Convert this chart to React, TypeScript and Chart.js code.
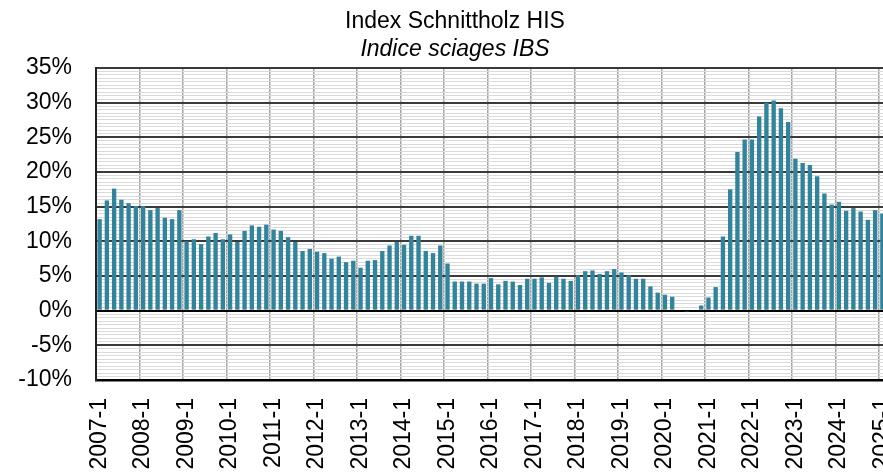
import React, { useEffect, useRef } from 'react';
import { Chart, registerables } from 'chart.js';

Chart.register(...registerables);

const TITLE = 'Index Schnittholz HIS';
const SUBTITLE = 'Indice sciages IBS';

// bi-monthly observations (months 1,3,5,7,9,11), year-over-year change in %
const MONTHS = [1, 3, 5, 7, 9, 11];
const V2007 = [13.2, 15.9, 17.6, 16.0, 15.5, 15.1];
const V2008 = [15.1, 14.5, 14.8, 13.4, 13.2, 14.5];
const V2009 = [10.0, 10.3, 9.6, 10.7, 11.2, 10.3];
const V2010 = [11.0, 9.9, 11.5, 12.3, 12.1, 12.4];
const V2011 = [11.7, 11.5, 10.6, 9.9, 8.6, 8.9];
const V2012 = [8.5, 8.3, 7.5, 7.8, 7.0, 7.2];
const V2013 = [6.2, 7.2, 7.3, 8.6, 9.4, 9.9];
const V2014 = [9.5, 10.8, 10.8, 8.6, 8.3, 9.4];
const V2015 = [6.8, 4.2, 4.2, 4.2, 3.9, 3.9];
const V2016 = [4.7, 3.8, 4.3, 4.2, 3.7, 4.6];
const V2017 = [4.6, 4.8, 4.0, 4.9, 4.6, 4.3];
const V2018 = [5.1, 5.7, 5.8, 5.3, 5.7, 6.0];
const V2019 = [5.5, 5.1, 4.6, 4.6, 3.5, 2.6];
const V2020 = [2.3, 2.0, 0.0, -0.2, 0.0, 0.75];
const V2021 = [1.9, 3.4, 10.7, 17.5, 22.9, 24.7];
const V2022 = [24.7, 28.0, 30.0, 30.3, 29.2, 27.2];
const V2023 = [21.9, 21.3, 21.0, 19.4, 16.9, 15.3];
const V2024 = [15.7, 14.4, 14.8, 14.3, 13.1, 14.5];
const V2025 = [14.0];

const YEARS: [number, number[]][] = [
  [2007, V2007], [2008, V2008], [2009, V2009], [2010, V2010], [2011, V2011],
  [2012, V2012], [2013, V2013], [2014, V2014], [2015, V2015], [2016, V2016],
  [2017, V2017], [2018, V2018], [2019, V2019], [2020, V2020], [2021, V2021],
  [2022, V2022], [2023, V2023], [2024, V2024], [2025, V2025],
];

const CATEGORIES: string[] = [];
const VALUES: number[] = [];
for (const [y, vals] of YEARS) {
  vals.forEach((v, i) => {
    CATEGORIES.push(`${y}-${MONTHS[i]}`);
    VALUES.push(v);
  });
}

const Y_MIN = -10;
const Y_MAX = 35;
const Y_MAJOR = 5;
const Y_MINOR = 0.5;

const FONT = '"Liberation Sans", Arial, sans-serif';

const isMajor = (v: number) => Math.abs(v % Y_MAJOR) < 1e-9;

const titlePlugin = {
  id: 'twoTitles',
  afterDraw(chart: any) {
    const ctx = chart.ctx;
    ctx.save();
    ctx.fillStyle = '#000';
    ctx.textAlign = 'center';
    ctx.textBaseline = 'middle';
    ctx.font = `23px ${FONT}`;
    ctx.fillText(TITLE, 455, 22);
    ctx.font = `italic 23px ${FONT}`;
    ctx.fillText(SUBTITLE, 455, 50);
    ctx.restore();
  },
};

export default function App() {
  const ref = useRef<HTMLCanvasElement | null>(null);

  useEffect(() => {
    if (!ref.current) return;
    const chart = new Chart(ref.current, {
      type: 'bar',
      data: {
        labels: CATEGORIES,
        datasets: [
          {
            data: VALUES,
            backgroundColor: '#31849b',
            barPercentage: 0.6,
            categoryPercentage: 1,
          },
        ],
      },
      options: {
        responsive: false,
        animation: false,
        devicePixelRatio: 1,
        layout: { padding: { top: 68, left: 0, right: 14, bottom: 0 } },
        plugins: {
          legend: { display: false },
          title: { display: false },
          tooltip: { enabled: false },
        },
        scales: {
          x: {
            offset: true,
            grid: {
              offset: true,
              drawTicks: false,
              color: (c: any) => (c.index > 0 && c.index % 6 === 0 ? '#a3a3a3' : 'rgba(0,0,0,0)'),
              lineWidth: 1.5,
            },
            border: { display: true, color: '#000', width: 2.5 },
            ticks: {
              autoSkip: false,
              maxRotation: 90,
              minRotation: 90,
              padding: 18,
              color: '#000',
              font: { family: FONT, size: 23 },
              callback: (_v: any, i: number) => (i % 6 === 0 ? CATEGORIES[i] : ''),
            },
            afterFit: (s: any) => {
              s.height = 94;
              s.paddingLeft = 0;
              s.paddingRight = 0;
            },
          },
          y: {
            min: Y_MIN,
            max: Y_MAX,
            grid: {
              drawTicks: false,
              color: (c: any) => {
                const v = c.tick ? c.tick.value : 1;
                if (v === 0) return '#000';
                return isMajor(v) ? '#3a3a3a' : '#dadada';
              },
              lineWidth: (c: any) => {
                const v = c.tick ? c.tick.value : 1;
                return isMajor(v) ? 2 : 1;
              },
            },
            border: { display: true, color: '#222', width: 2 },
            ticks: {
              stepSize: Y_MINOR,
              maxTicksLimit: 1000,
              autoSkip: false,
              padding: 24,
              color: '#000',
              font: { family: FONT, size: 23 },
              callback: (v: any) => (isMajor(Number(v)) ? `${v}%` : ''),
            },
            afterFit: (s: any) => {
              s.width = 96;
              s.paddingTop = 0;
              s.paddingBottom = 0;
            },
          },
        },
      },
      plugins: [titlePlugin],
    } as any);
    return () => chart.destroy();
  }, []);

  return (
    <div
      style={{
        position: 'fixed',
        left: 0,
        top: 0,
        width: 883,
        height: 474,
        overflow: 'hidden',
        background: '#fff',
      }}
    >
      <canvas ref={ref} width={900} height={474} style={{ display: 'block', width: 900, height: 474 }} />
    </div>
  );
}
